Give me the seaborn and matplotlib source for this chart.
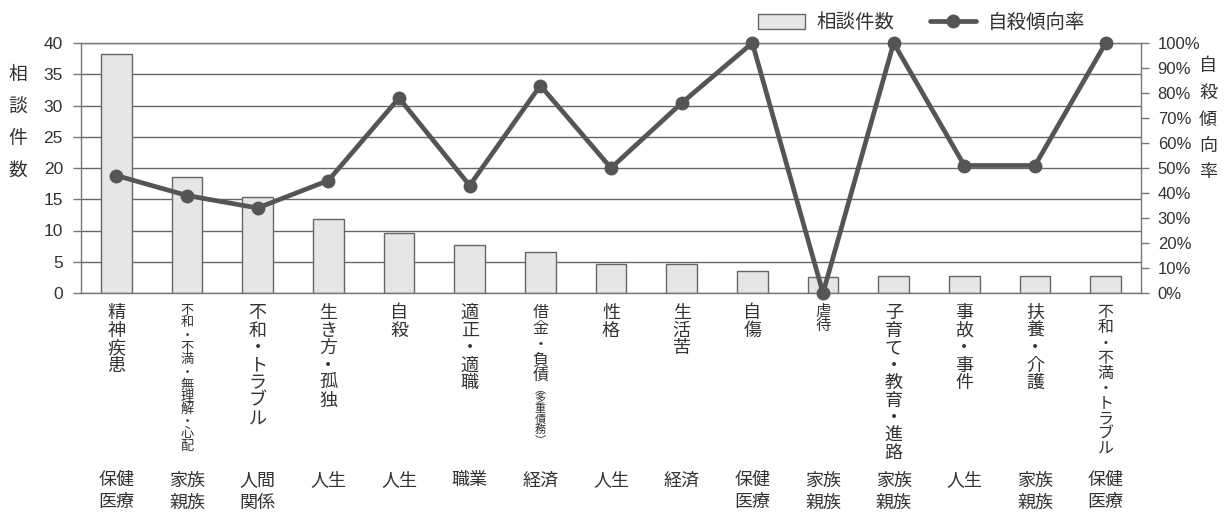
import numpy as np
import pandas as pd
import matplotlib
matplotlib.use("Agg")
import matplotlib.pyplot as plt
import matplotlib.transforms as mtransforms
from matplotlib.ticker import PercentFormatter, MultipleLocator
from matplotlib.patches import Patch
from matplotlib.lines import Line2D
import seaborn as sns

# 相談内容（縦書き）と分野
naiyo = ["精神疾患", "不和・不満・無理解・心配", "不和・トラブル", "生き方・孤独", "自殺",
         "適正・適職", "借金・負債（多重債務）", "性格", "生活苦", "自傷", "虐待",
         "子育て・教育・進路", "事故・事件", "扶養・介護", "不和・不満・トラブル"]
bunya = ["保健\n医療", "家族\n親族", "人間\n関係", "人生", "人生", "職業", "経済", "人生",
         "経済", "保健\n医療", "家族\n親族", "家族\n親族", "人生", "家族\n親族", "保健\n医療"]
soudan = [38.3, 18.6, 15.4, 11.9, 9.6, 7.7, 6.6, 4.7, 4.7, 3.5, 2.5, 2.7, 2.8, 2.8, 2.8]
jisatsu = [0.47, 0.39, 0.34, 0.45, 0.78, 0.43, 0.83, 0.50, 0.76, 1.00, 0.0, 1.00, 0.51, 0.51, 1.00]

W, H = 1232, 515
TXT = "#333333"
GRID = "#666666"

sns.set_theme(style="white")
plt.rcParams['font.family'] = ['Liberation Sans', 'Noto Sans CJK JP', 'DejaVu Sans']

df = pd.DataFrame({"naiyo": naiyo, "soudan": soudan, "jisatsu": jisatsu})

fig = plt.figure(figsize=(W / 100, H / 100), dpi=100)
ax = fig.add_axes([81 / W, 1 - 293 / H, (1141 - 81) / W, 250 / H])

sns.barplot(data=df, x="naiyo", y="soudan", color="#e6e6e6", saturation=1,
            edgecolor="#666666", linewidth=1, width=0.43, ax=ax)
ax.set_xlim(-0.5, 14.5)
ax.set_ylim(0, 40)
ax.yaxis.set_major_locator(MultipleLocator(5))
ax.grid(axis="y", color=GRID, lw=1)
ax.set_axisbelow(True)
ax.set_xlabel("")
ax.set_ylabel("")
ax.set_xticks([])
ax.set_xticks(np.arange(-0.5, 15, 1), minor=True)
ax.tick_params(axis="x", which="minor", length=160, width=1, color="#777777",
               direction="out", labelbottom=False)
ax.tick_params(axis="y", length=6, width=1, color="#777777", pad=7,
               labelsize=12.5, labelcolor=TXT, left=True)
for s in ax.spines.values():
    s.set_color("#777777")
    s.set_linewidth(1)

ax2 = ax.twinx()
sns.lineplot(x=np.arange(15), y=df["jisatsu"], ax=ax2, color="#555555", lw=3.4,
             marker="o", markersize=10, markeredgewidth=0)
for l in ax2.lines:
    l.set_clip_on(False)
ax2.set_ylim(0, 1)
ax2.yaxis.set_major_locator(MultipleLocator(0.1))
ax2.yaxis.set_major_formatter(PercentFormatter(1.0, decimals=0))
ax2.tick_params(axis="y", length=6, width=1, color="#777777", pad=6,
                labelsize=12, labelcolor=TXT, right=True)
ax2.set_ylabel("")
for s in ax2.spines.values():
    s.set_visible(False)

# 縦書きの軸ラベル
for i, ch in enumerate("相談件数"):
    fig.text(18 / W, 1 - (75 + 32 * i) / H, ch, fontsize=13.5, color=TXT,
             ha="center", va="center")
for i, ch in enumerate("自殺傾向率"):
    fig.text(1208 / W, 1 - (67 + 26.5 * i) / H, ch, fontsize=13, color=TXT,
             ha="center", va="center")

# 縦書きの項目名
trans = mtransforms.blended_transform_factory(ax.transData, fig.transFigure)
vstyle = {1: (9.5, 12.3), 10: (11, 14), 14: (11.5, 15.2)}
vert = str.maketrans({"（": "︵", "）": "︶"})
for i, lab in enumerate(naiyo):
    fs, step = vstyle.get(i, (13, 17.5))
    if "（" in lab:
        main, sub = lab.split("（")
        segs = [(main, 11.5, 15.7), (("（" + sub).translate(vert), 8, 10.3)]
    else:
        segs = [(lab, fs, step)]
    y = 305
    for text, f, st in segs:
        for ch in text:
            ax.text(i, 1 - (y + st / 2) / H, ch, transform=trans, fontsize=f,
                    color=TXT, ha="center", va="center")
            y += st

# 分野
for i, lab in enumerate(bunya):
    for j, line in enumerate(lab.split("\n")):
        ax.text(i, 1 - (481 + 22 * j) / H, line, transform=trans, fontsize=13,
                color=TXT, ha="center", va="center")

handles = [Patch(facecolor="#e6e6e6", edgecolor="#666666", lw=1),
           Line2D([], [], color="#555555", lw=3.4, marker="o", markersize=10,
                  markeredgewidth=0)]
fig.legend(handles, ["相談件数", "自殺傾向率"], loc="center",
           bbox_to_anchor=(922 / W, 1 - 23 / H), ncol=2, frameon=False,
           fontsize=14, handlelength=2.4, handleheight=0.8, handletextpad=0.6,
           columnspacing=1.8, labelcolor=TXT)

fig.savefig("out.png", dpi=100)
